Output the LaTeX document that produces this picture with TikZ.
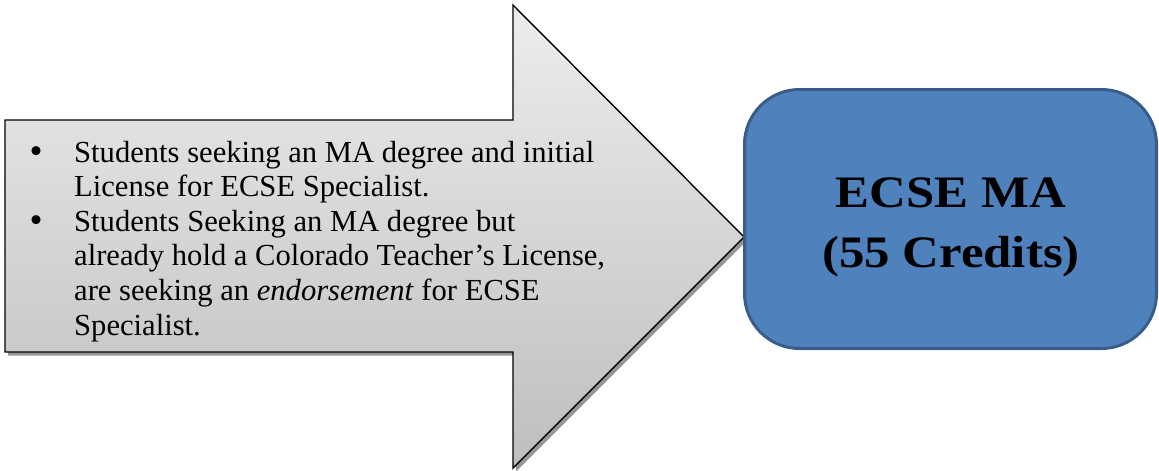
\documentclass[tikz,border=0pt]{standalone}
\usepackage{fontspec}
\setmainfont{Liberation Serif}
\newfontfamily\boxfont[FakeStretch=1.13]{Liberation Serif}
\newfontfamily\bulletfont{DejaVu Sans}
\definecolor{arrowtop}{RGB}{237,237,237}
\definecolor{arrowbot}{RGB}{190,190,190}
\definecolor{boxfill}{RGB}{79,129,189}
\definecolor{boxline}{RGB}{56,93,138}
\definecolor{shadowgray}{RGB}{150,150,150}
\newcommand{\bulletmark}{\makebox[47pt][l]{\bulletfont •}}
\tikzset{
  arrowbody/.style={draw=black, line width=1.4pt, line join=miter, top color=arrowtop, bottom color=arrowbot},
  arrowshadow/.style={fill=shadowgray, draw=none},
  bluebox/.style={draw=boxline, line width=3pt, fill=boxfill, rounded corners=55pt},
  listtext/.style={inner sep=0pt, anchor=base west, font=\fontsize{30.6}{34.6}\selectfont},
  boxtext/.style={inner sep=0pt, anchor=base, font=\boxfont\bfseries\fontsize{45}{60}\selectfont}
}
\begin{document}
\begin{tikzpicture}[x=1pt,y=-1pt]
\useasboundingbox (0,0) rectangle (1159,471);
% arrow corner coordinates
\coordinate (bl) at (5,352);
\coordinate (tl) at (5,120);
\coordinate (nt) at (513,120);
\coordinate (ht) at (513,5);
\coordinate (tip) at (744,237);
\coordinate (hb) at (513,468);
\coordinate (nb) at (513,352);
% shadow
\fill[arrowshadow, shift={(3,3.5)}] (5,352) -- (5,120) -- (513,120) -- (513,5) -- (744,237) -- (513,468) -- (513,352) -- cycle;
% arrow
\path[arrowbody] (tl) -- (nt) -- (ht) -- (tip) -- (hb) -- (nb) -- (bl) -- cycle;
% list text
\node[listtext] (list) at (27,162) {\begin{tabular}[t]{@{}l@{}l@{}}
\bulletmark & Students seeking an MA degree and initial\\
 & License for ECSE Specialist.\\
\bulletmark & Students Seeking an MA degree but\\
 & already hold a Colorado Teacher’s License,\\
 & are seeking an \textit{endorsement} for ECSE\\
 & Specialist.
\end{tabular}};
% blue box
\draw[bluebox] (744.5,89.5) rectangle (1156.5,348.5);
\node[boxtext] (t1) at (951,207) {ECSE MA};
\node[boxtext] (t2) at (951,267) {(55 Credits)};
\end{tikzpicture}
\end{document}
